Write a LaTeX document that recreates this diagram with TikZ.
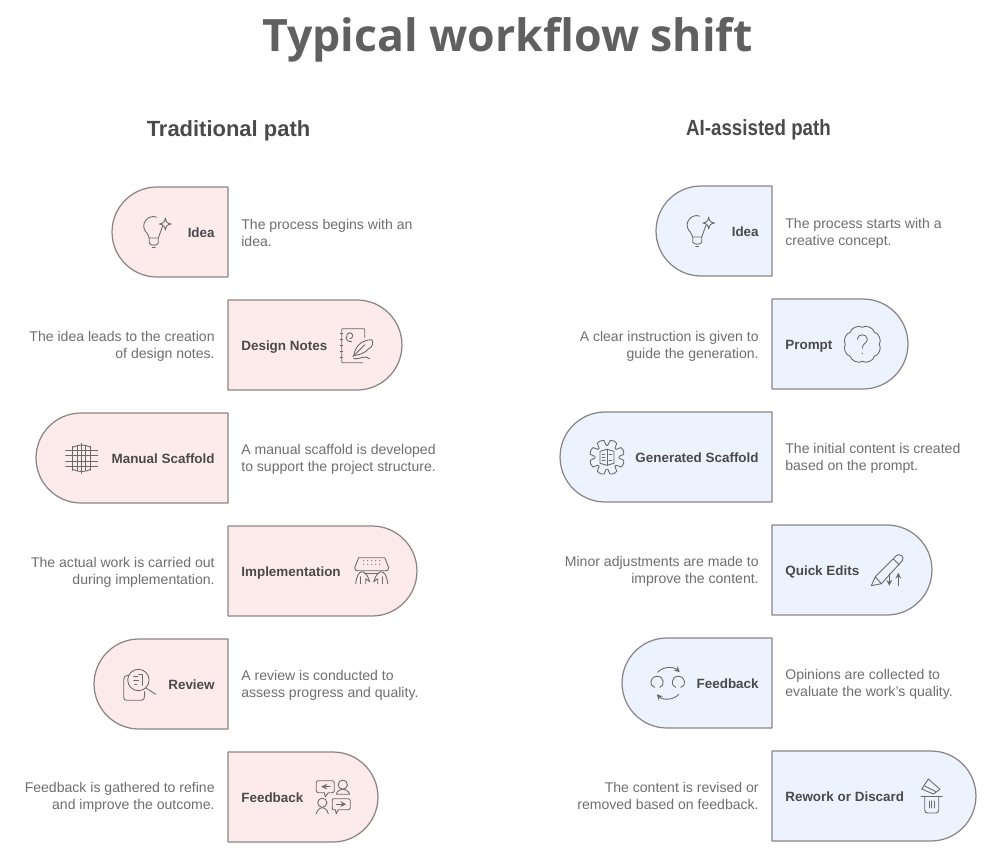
\documentclass[tikz,border=0pt]{standalone}
\usepackage{xcolor}
\usepackage{fontspec}
\setmainfont{Liberation Sans}
\newfontfamily\titlefont{Open Sans}
\newfontfamily\narrowhead[FakeStretch=0.853]{Liberation Sans}
\usetikzlibrary{shapes.misc,positioning}
\definecolor{tradfill}{HTML}{FDEBEB}
\definecolor{aifill}{HTML}{ECF3FE}
\definecolor{boxline}{HTML}{8A8585}
\definecolor{titlegray}{HTML}{606060}
\definecolor{labelgray}{HTML}{4A4A4A}
\definecolor{descgray}{HTML}{6E6E6E}
\definecolor{icongray}{HTML}{6A6A6A}
\tikzset{
    stagebox/.style={draw=boxline, line width=0.7pt, line join=round, rounded rectangle, inner sep=0pt, outer sep=0pt, minimum height=1.8cm},
    leftcap/.style={stagebox, rounded rectangle east arc=none, anchor=east},
    rightcap/.style={stagebox, rounded rectangle west arc=none, anchor=west},
    stagelabel/.style={font=\fontsize{7.65}{9.7}\selectfont\bfseries, text=labelgray, inner sep=0pt, text height=6.6pt, text depth=0pt},
    stagedesc/.style={font=\fontsize{8}{9.7}\selectfont, text=descgray, inner sep=0pt},
    pathhead/.style={text=labelgray, inner sep=0pt, text height=9pt, text depth=0pt},
    icon/.style={draw=icongray, line width=0.5pt, line cap=round, line join=round, fill=none},
    ideaicon/.pic={
        \draw[icon] (3.2,8.9) arc[start angle=70, end angle=230, radius=9.5] -- (-4,-12);
        \draw[icon] (9.4,0) -- (5,-12) -- (-4,-12) -- (-4,-17) .. controls (-3,-20) and (4,-20) .. (5,-17) -- (5,-12);
        \draw[icon] (-1,-21) -- (2,-21);
        \draw[icon] (12,8) .. controls (12.5,4) and (14,2.5) .. (18,2) .. controls (14,1.5) and (12.5,0) .. (12,-4) .. controls (11.5,0) and (10,1.5) .. (6,2) .. controls (10,2.5) and (11.5,4) .. (12,8) -- cycle;
    },
    notesicon/.pic={
        \draw[icon] (8,8) -- (8,16) .. controls (8,17) and (7,17) .. (6,17) -- (-14,17) .. controls (-15,17) and (-15,16) .. (-15,15) -- (-15,-15) .. controls (-15,-16) and (-15,-17) .. (-14,-17) -- (6,-17);
        \foreach \ringy in {-12,-6,0,6,12} \draw[icon] (-16.5,\ringy) -- (-14,\ringy);
        \draw[icon] (-7,7) arc[start angle=-90, end angle=200, radius=3] .. controls (-12,10) and (-10,3) .. (-5,4);
        \draw[icon] (-3,-10) .. controls (-2,-2) and (4,6) .. (15,6) .. controls (17,4) and (16,-2) .. (12,-3) .. controls (8,-8) and (2,-9) .. (-3,-10) -- cycle;
        \draw[icon] (-4,-11) -- (8,1);
        \draw[icon] (-3,-13) .. controls (4,-14) and (6,-9) .. (13,-13);
    },
    gridicon/.pic={
        \draw[icon] (-9,11) .. controls (-3,14) and (3,14) .. (9,11);
        \draw[icon] (-9,-11) .. controls (-3,-14) and (3,-14) .. (9,-11);
        \draw[icon] (-16,8) -- (16,8);
        \draw[icon] (-16,3) -- (16,3);
        \draw[icon] (-16,-3) -- (16,-3);
        \draw[icon] (-16,-8) -- (16,-8);
        \foreach \gridx in {-9,-4,4,9} \draw[icon] (\gridx,-12) -- (\gridx,12);
        \draw[icon] (0,-15) -- (0,15);
    },
    handsicon/.pic={
        \draw[icon] (-13,13) -- (13,13) -- (17,3) .. controls (17,0) and (15,0) .. (14,0) -- (-14,0) .. controls (-15,0) and (-17,0) .. (-17,3) -- cycle;
        \foreach \keyx in {-8,-4,0,4,8} {
            \fill[icongray] (\keyx,10) circle (0.6);
            \fill[icongray] (\keyx,6.5) circle (0.6);
        }
        \draw[icon] (-7,-3) -- (7,-3);
        \draw[icon] (-16,-13) .. controls (-15,-5) and (-13,-1) .. (-9,-1) .. controls (-5,-2) and (-3,-8) .. (-2,-11) -- (-6,-8) -- (-6,-13);
        \draw[icon] (16,-13) .. controls (15,-5) and (13,-1) .. (9,-1) .. controls (5,-2) and (3,-8) .. (2,-11) -- (6,-8) -- (6,-13);
        \draw[icon] (-11,-13) -- (-11,-6);
        \draw[icon] (11,-13) -- (11,-6);
    },
    reviewicon/.pic={
        \draw[icon] (-11,9) .. controls (-14,9) and (-16,8) .. (-16,5) -- (-16,-13) .. controls (-16,-15) and (-15,-16) .. (-13,-16) -- (2,-16) .. controls (4,-16) and (5,-15) .. (5,-7);
        \draw[icon] (-1.3,4.3) circle (10.7);
        \draw[icon] (6,-3.5) -- (16,-10);
        \draw[icon] (-1,10) -- (3,10) -- (3,-1);
        \draw[icon] (-6,8) -- (-2,8);
        \draw[icon] (-6,4) -- (-1,4);
        \draw[icon] (-5,0) -- (-3,0);
    },
    talkicon/.pic={
        \draw[icon] (-15,16) -- (-1,16) .. controls (0,16) and (1,15) .. (1,14) -- (1,6) .. controls (1,5) and (0,4) .. (-1,4) -- (-5,4) -- (-8,0) -- (-9,4) -- (-15,4) .. controls (-16,4) and (-17,5) .. (-17,6) -- (-17,14) .. controls (-17,15) and (-16,16) .. (-15,16) -- cycle;
        \draw[icon,->,>=stealth] (-3,10) -- (-12,10);
        \draw[icon] (9.5,12) circle (4.6);
        \draw[icon] (3,2.5) .. controls (4,6) and (7,7.5) .. (9.5,7.5) .. controls (12,7.5) and (15,6) .. (16.5,2.5) -- (3,2.5);
        \draw[icon] (-11,-6) circle (4.6);
        \draw[icon] (-17,-17) .. controls (-16,-13) and (-13,-11) .. (-11,-11) .. controls (-9,-11) and (-6,-13) .. (-5,-17);
        \draw[icon] (0,-2) -- (15,-2) .. controls (16,-2) and (17,-3) .. (17,-4) -- (17,-11) .. controls (17,-12) and (16,-13) .. (15,-13) -- (5,-13) -- (3,-17) -- (2,-13) -- (0,-13) .. controls (-1,-13) and (-1,-12) .. (-1,-11) -- (-1,-4) .. controls (-1,-3) and (-1,-2) .. (0,-2) -- cycle;
        \draw[icon,->,>=stealth] (3,-7.5) -- (13,-7.5);
    },
    askicon/.pic={
        \draw[icon] (0:17) \foreach \lobe in {0,45,...,315} {
            .. controls (\lobe+10:20) and (\lobe+35:20) .. (\lobe+45:17)
        };
        \draw[icon] (-5,5) .. controls (-5,11) and (5,11) .. (5,5) .. controls (5,1) and (0,1) .. (0,-4);
        \fill[icongray] (0,-9) circle (0.7);
    },
    gearicon/.pic={
        \draw[icon] (0:12) \foreach \tooth in {0,45,...,315} {
            -- (\tooth+4:12) -- (\tooth+10:17) .. controls (\tooth+22.5:18) .. (\tooth+35:17) -- (\tooth+41:12) -- (\tooth+45:12)
        };
        \draw[icon] (-7,6) -- (0,8) -- (7,6) -- (7,-6) -- (0,-8) -- (-7,-6) -- cycle;
        \draw[icon] (0,8) -- (0,-8);
        \draw[icon] (-5,3) -- (-2,3);
        \draw[icon] (-5,0) -- (-2,0);
        \draw[icon] (-5,-3) -- (-2,-3);
        \draw[icon] (2,3) -- (5,3);
        \draw[icon] (2,-3) -- (5,-3);
    },
    editicon/.pic={
        \draw[icon] (-12,-6) -- (-16,-15) -- (-6,-13) -- cycle;
        \draw[icon] (-12,-6) -- (9,15) .. controls (12,18) and (18,14) .. (15,10) -- (-6,-13);
        \draw[icon] (6,12) -- (12,6);
        \draw[icon,->,>=stealth] (2,-3) -- (2,-15);
        \draw[icon,->,>=stealth] (11,-15) -- (11,-2);
    },
    loopicon/.pic={
        \draw[icon,->,>=stealth] (-10,11) .. controls (-5,17) and (6,17) .. (12,11);
        \draw[icon,->,>=stealth] (11,-11) .. controls (6,-17) and (-5,-17) .. (-11,-11);
        \draw[icon] (-13,-4) .. controls (-19,-3) and (-18,7) .. (-10.5,7) .. controls (-3,7) and (-3,-3) .. (-8,-4);
        \draw[icon] (8,-4) .. controls (3,-3) and (3,7) .. (10.5,7) .. controls (18,7) and (19,-3) .. (13,-4);
    },
    trashicon/.pic={
        \draw[icon] (-10.5,0) -- (10.5,0);
        \draw[icon] (-7,0) -- (-7,-14) .. controls (-7,-16) and (-6,-17) .. (-4,-17) -- (4,-17) .. controls (6,-17) and (7,-16) .. (7,-14) -- (7,0);
        \foreach \binx in {-2.5,0,2.5} \draw[icon] (\binx,-5) -- (\binx,-12);
        \draw[icon] (-3.3,17) -- (8.3,6.7) -- (1.7,2) -- (-10,7) -- cycle;
        \draw[icon] (-7,10) -- (4,4.5);
    }
}
\begin{document}
\begin{tikzpicture}[x=0.02cm, y=0.02cm]
    \useasboundingbox (0,0) rectangle (1000,-868);
    % Title and column headings
    \node[font=\titlefont\fontsize{25.4}{28}\selectfont\bfseries, text=titlegray, inner sep=0pt, anchor=base] (title) at (507.5,-52) {Typical workflow shift};
    \node[pathhead, font=\fontsize{12.5}{15}\selectfont\bfseries] (tradhead) at (228.5,-128.5) {Traditional path};
    \node[pathhead, font=\narrowhead\fontsize{12.5}{15}\selectfont\bfseries] (aihead) at (758.5,-127.7) {AI-assisted path};

    % Traditional path
    \node[leftcap, fill=tradfill, minimum width=2.32cm] (tideabox) at (228,-232) {};
    \node[rightcap, fill=tradfill, minimum width=3.48cm] (tnotesbox) at (228,-345) {};
    \node[leftcap, fill=tradfill, minimum width=3.84cm] (tscaffoldbox) at (228,-458) {};
    \node[rightcap, fill=tradfill, minimum width=3.78cm] (timplbox) at (228,-571) {};
    \node[leftcap, fill=tradfill, minimum width=2.68cm] (treviewbox) at (228,-684) {};
    \node[rightcap, fill=tradfill, minimum width=3cm] (tfeedbox) at (228,-797) {};

    \node[stagelabel, anchor=east] (tidealabel) at (215,-232) {Idea};
    \node[stagelabel, anchor=west] (tnoteslabel) at (241,-345) {Design Notes};
    \node[stagelabel, anchor=east] (tscaffoldlabel) at (215,-458) {Manual Scaffold};
    \node[stagelabel, anchor=west] (timpllabel) at (241,-571) {Implementation};
    \node[stagelabel, anchor=east] (treviewlabel) at (215,-684) {Review};
    \node[stagelabel, anchor=west] (tfeedlabel) at (241,-797) {Feedback};

    \node[stagedesc, anchor=west, align=left] (tideadesc) at (241,-233) {The process begins with an\\idea.};
    \node[stagedesc, anchor=east, align=right] (tnotesdesc) at (215,-346) {The idea leads to the creation\\of design notes.};
    \node[stagedesc, anchor=west, align=left] (tscaffolddesc) at (241,-459) {A manual scaffold is developed\\to support the project structure.};
    \node[stagedesc, anchor=east, align=right] (timpldesc) at (215,-572) {The actual work is carried out\\during implementation.};
    \node[stagedesc, anchor=west, align=left] (treviewdesc) at (241,-685) {A review is conducted to\\assess progress and quality.};
    \node[stagedesc, anchor=east, align=right] (tfeeddesc) at (215,-797) {Feedback is gathered to refine\\and improve the outcome.};

    \pic at (153.3,-226) {ideaicon};
    \pic at (356.7,-345.7) {notesicon};
    \pic at (81.7,-458.3) {gridicon};
    \pic at (371.7,-570.7) {handsicon};
    \pic at (139.7,-684.3) {reviewicon};
    \pic at (333.3,-796.7) {talkicon};

    % AI-assisted path
    \node[leftcap, fill=aifill, minimum width=2.32cm] (aideabox) at (772,-231) {};
    \node[rightcap, fill=aifill, minimum width=2.72cm] (apromptbox) at (772,-344) {};
    \node[leftcap, fill=aifill, minimum width=4.24cm] (ascaffoldbox) at (772,-457) {};
    \node[rightcap, fill=aifill, minimum width=3.2cm] (aeditbox) at (772,-570) {};
    \node[leftcap, fill=aifill, minimum width=3cm] (afeedbox) at (772,-683) {};
    \node[rightcap, fill=aifill, minimum width=4.08cm] (areworkbox) at (772,-796) {};

    \node[stagelabel, anchor=east] (aidealabel) at (759,-231) {Idea};
    \node[stagelabel, anchor=west] (apromptlabel) at (785,-344) {Prompt};
    \node[stagelabel, anchor=east] (ascaffoldlabel) at (759,-457) {Generated Scaffold};
    \node[stagelabel, anchor=west] (aeditlabel) at (785,-570) {Quick Edits};
    \node[stagelabel, anchor=east] (afeedlabel) at (759,-683) {Feedback};
    \node[stagelabel, anchor=west] (areworklabel) at (785,-796) {Rework or Discard};

    \node[stagedesc, anchor=west, align=left] (aideadesc) at (785,-233) {The process starts with a\\creative concept.};
    \node[stagedesc, anchor=east, align=right] (apromptdesc) at (759,-346) {A clear instruction is given to\\guide the generation.};
    \node[stagedesc, anchor=west, align=left] (ascaffolddesc) at (785,-458.5) {The initial content is created\\based on the prompt.};
    \node[stagedesc, anchor=east, align=right] (aeditdesc) at (759,-571.5) {Minor adjustments are made to\\improve the content.};
    \node[stagedesc, anchor=west, align=left] (afeeddesc) at (785,-684) {Opinions are collected to\\evaluate the work's quality.};
    \node[stagedesc, anchor=east, align=right] (areworkdesc) at (759,-796) {The content is revised or\\removed based on feedback.};

    \pic at (696.7,-225) {ideaicon};
    \pic at (862.3,-344.3) {askicon};
    \pic at (607,-457.3) {gearicon};
    \pic at (887.3,-570.7) {editicon};
    \pic at (667.7,-683.3) {loopicon};
    \pic at (931.7,-796) {trashicon};
\end{tikzpicture}
\end{document}
